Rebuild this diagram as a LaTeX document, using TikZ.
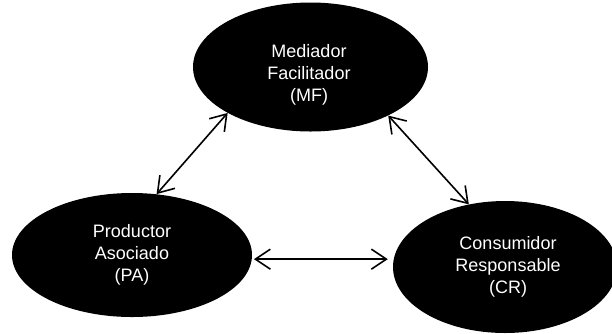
\documentclass[tikz,border=0pt]{standalone}
\usepackage{fontspec}
\setmainfont{Liberation Sans}
\usetikzlibrary{shapes.geometric,arrows.meta}
\begin{document}
\begin{tikzpicture}[x=1pt,y=-1pt,
  blob/.style={ellipse, fill=black, inner sep=0pt},
  lbl/.style={text=white, align=center, inner sep=0pt, font=\fontsize{18}{22}\selectfont},
  link/.style={{Straight Barb[length=15pt,width=20pt]}-{Straight Barb[length=15pt,width=20pt]}, line width=1.6pt}]
\useasboundingbox (0,0) rectangle (612,333);
\node[blob, minimum width=235pt, minimum height=129pt] (mf) at (310.5,67) {};
\node[blob, minimum width=240pt, minimum height=124pt] (pa) at (132,255) {};
\node[blob, minimum width=224pt, minimum height=132pt] (cr) at (505,267) {};
\node[lbl] (mft) at (309,75) {Mediador\\Facilitador\\(MF)};
\node[lbl] (pat) at (132,255) {Productor\\Asociado\\(PA)};
\node[lbl] (crt) at (508,267) {Consumidor\\Responsable\\(CR)};
\draw[link] (mf.209) -- (pa.68);
\draw[link] (mf.328) -- (cr.120);
\draw[link, shorten <=2pt, shorten >=5pt] (pa.-2) -- (pa.-2 -| cr.west);
\end{tikzpicture}
\end{document}
